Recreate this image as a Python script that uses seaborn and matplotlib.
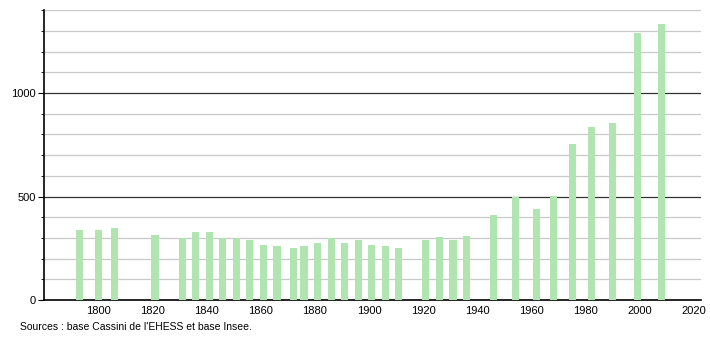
import matplotlib
matplotlib.use("Agg")
import matplotlib.pyplot as plt
import seaborn as sns
import pandas as pd
from matplotlib.ticker import MultipleLocator, FixedLocator

years = [1793, 1800, 1806, 1821, 1831, 1836, 1841, 1846, 1851, 1856, 1861, 1866,
         1872, 1876, 1881, 1886, 1891, 1896, 1901, 1906, 1911, 1921, 1926, 1931,
         1936, 1946, 1954, 1962, 1968, 1975, 1982, 1990, 1999, 2008]
population = [338, 338, 348, 314, 298, 329, 329, 298, 298, 290, 266, 261,
              251, 261, 275, 298, 275, 290, 266, 261, 251, 290, 303, 290,
              308, 409, 496, 440, 503, 754, 836, 855, 1290, 1334]
x_ticks = [1800, 1820, 1840, 1860, 1880, 1900, 1920, 1940, 1960, 1980, 2000, 2020]
y_ticks = [0, 500, 1000]
source_text = "Sources : base Cassini de l'EHESS et base Insee."

df = pd.DataFrame({"year": years, "pop": population})

sns.set_style("white")
plt.rcParams['font.family'] = ['Liberation Sans', 'DejaVu Sans']
plt.rcParams['text.color'] = 'black'
plt.rcParams['xtick.color'] = 'black'
plt.rcParams['ytick.color'] = 'black'
plt.rcParams['xtick.labelcolor'] = 'black'
plt.rcParams['ytick.labelcolor'] = 'black'

fig = plt.figure(figsize=(7.1, 3.4), dpi=100)
ax = fig.add_axes([0.062, 0.1176, 0.925, 0.852])

sns.barplot(data=df, x="year", y="pop", native_scale=True, color="#b0e4b0",
            saturation=1, width=0.66, ax=ax, zorder=3, edgecolor="none", linewidth=0)

ax.set_xlim(1780, 2022.5)
ax.set_ylim(0, 1400)
ax.set_xlabel("")
ax.set_ylabel("")

ax.xaxis.set_major_locator(FixedLocator(x_ticks))
ax.set_xticklabels([str(t) for t in x_ticks])
ax.yaxis.set_major_locator(FixedLocator(y_ticks))
ax.yaxis.set_minor_locator(MultipleLocator(100))
ax.tick_params(axis="x", length=0, labelsize=8, pad=4)
ax.tick_params(axis="y", which="major", length=4, width=0.8, labelsize=8, pad=2, color="black")
ax.tick_params(axis="y", which="minor", length=2, width=0.6, color="black")
ax.yaxis.set_ticks_position("left")

for v in range(100, 1401, 100):
    if v % 500 == 0:
        ax.axhline(v, color="#333333", lw=0.9, zorder=1)
    else:
        ax.axhline(v, color="#c8c8c8", lw=0.9, zorder=1)

for s in ["top", "right"]:
    ax.spines[s].set_visible(False)
ax.spines["left"].set_color("black")
ax.spines["left"].set_linewidth(1.2)
ax.spines["bottom"].set_color("black")
ax.spines["bottom"].set_linewidth(1.2)

fig.text(20 / 710, 1 - 327 / 340, source_text, fontsize=7.5, va="center", ha="left")

fig.savefig("out.png", dpi=100)
